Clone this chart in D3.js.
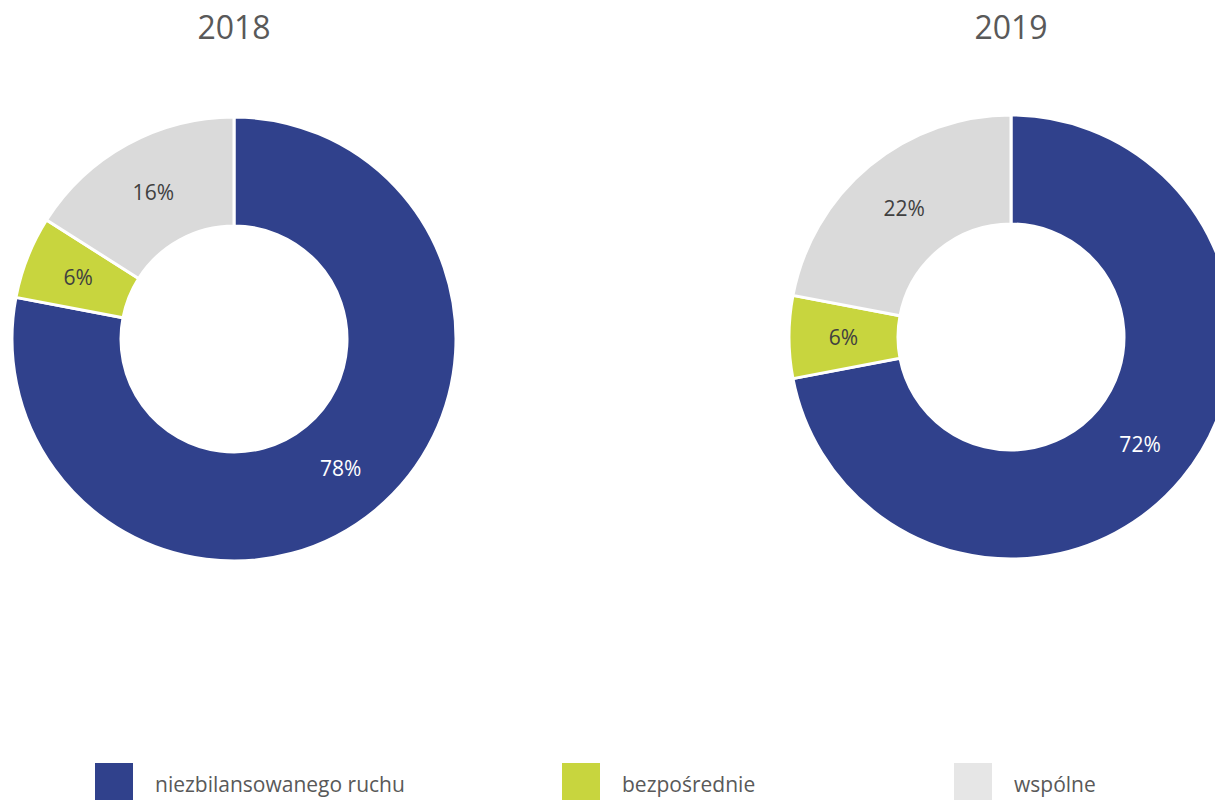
<!DOCTYPE html>
<html>
<head>
<meta charset="utf-8">
<script src="https://cdn.jsdelivr.net/npm/d3@7"></script>
<style>
  html, body { margin: 0; padding: 0; background: #fff; overflow: hidden; }
  svg { display: block; font-family: "Open Sans", sans-serif; }
</style>
</head>
<body>
<div id="chart"></div>
<script>
(function() {
  // Data
  const categories = ["niezbilansowanego ruchu", "bezpośrednie", "wspólne"];
  const years = ["2018", "2019"];
  const values2018 = [78, 6, 16];
  const values2019 = [72, 6, 22];
  const colors = ["#30418C", "#C8D53E", "#DADADA"];
  const labelColors = ["#ffffff", "#404040", "#404040"];

  const width = 1215, height = 800;

  const svg = d3.select("#chart").append("svg")
    .attr("width", width)
    .attr("height", height);

  const outerR = 222, innerR = 113;
  const centers = [
    { x: 234, y: 339, values: values2018, year: years[0] },
    { x: 1011, y: 337, values: values2019, year: years[1] }
  ];

  const pie = d3.pie().sort(null).value(d => d.value);
  const arc = d3.arc().innerRadius(innerR).outerRadius(outerR);
  const colorScale = d3.scaleOrdinal().domain(categories).range(colors);
  const labelScale = d3.scaleOrdinal().domain(categories).range(labelColors);

  centers.forEach(c => {
    const data = categories.map((name, i) => ({ name, value: c.values[i] }));

    svg.append("text")
      .attr("x", c.x)
      .attr("y", 39)
      .attr("text-anchor", "middle")
      .attr("fill", "#595959")
      .style("font-size", "32px")
      .text(c.year);

    const g = svg.append("g")
      .attr("transform", `translate(${c.x},${c.y})`);

    const slices = g.selectAll("g.slice")
      .data(pie(data))
      .join("g")
      .attr("class", "slice");

    slices.append("path")
      .attr("d", arc)
      .attr("fill", d => colorScale(d.data.name))
      .attr("stroke", "#fff")
      .attr("stroke-width", 3);

    slices.append("text")
      .attr("transform", d => `translate(${arc.centroid(d)})`)
      .attr("text-anchor", "middle")
      .attr("dominant-baseline", "central")
      .attr("fill", d => labelScale(d.data.name))
      .style("font-size", "21px")
      .text(d => d.data.value + "%");
  });

  // Legend
  const legendX = [95, 562, 954];
  const legend = svg.selectAll("g.legend")
    .data(categories)
    .join("g")
    .attr("class", "legend")
    .attr("transform", (d, i) => `translate(${legendX[i]},763)`);

  legend.append("rect")
    .attr("width", 38)
    .attr("height", 38)
    .attr("fill", (d, i) => i === 2 ? "#E6E6E6" : colorScale(d));

  legend.append("text")
    .attr("x", 60)
    .attr("y", 29)
    .attr("fill", "#595959")
    .style("font-size", "21px")
    .text(d => d);
})();
</script>
</body>
</html>
